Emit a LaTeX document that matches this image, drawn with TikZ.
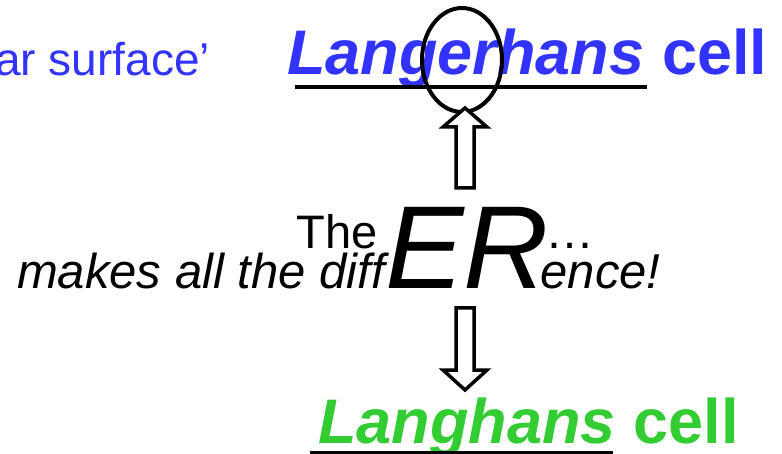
\documentclass[tikz,border=0pt]{standalone}
\usepackage{fontspec}
\setmainfont{Liberation Sans}
\usetikzlibrary{positioning, shapes.geometric}
\definecolor{langblue}{RGB}{51,51,255}
\definecolor{langgreen}{RGB}{51,204,51}

\begin{document}
\begin{tikzpicture}[
    x=1pt, y=-1pt,
    txt/.style={inner sep=0pt, anchor=base west},
    title/.style={txt, font=\fontsize{63}{63}\selectfont\bfseries},
    small/.style={txt, font=\fontsize{49}{49}\selectfont},
    big/.style={txt, font=\fontsize{118}{118}\selectfont\itshape},
    hollow/.style={draw, line width=3.5pt, fill=white, miter limit=10},
    rule/.style={line width=3.5pt}
]
\useasboundingbox (0,0) rectangle (782,454);

% upper name
\node[txt, text=langblue, font=\fontsize{46}{46}\selectfont] (surface) at (-5,76) {ar surface’};
\node[title, text=langblue, font=\fontsize{63}{63}\selectfont\bfseries\itshape] (langer) at (287,75) {Langerhans};
\node[title, text=langblue, right=0pt of langer.base east, anchor=base west] (cellA) {\ cell};
\draw[rule] (295,87) -- (647,87);
\node[draw, ellipse, line width=4pt, minimum width=80pt, minimum height=104pt, inner sep=0pt] (ring) at (462,60) {};

% middle words
\node[small, anchor=base east, font=\fontsize{49}{49}\selectfont\itshape] (makes) at (385,289) {makes all the diff};
\node[big, right=0pt of makes.base east, anchor=base west] (er) {ER};
\node[small, font=\fontsize{49}{49}\selectfont\itshape] (ence) at ([xshift=-9pt]er.base east) {ence!};
\node[small, anchor=base east, font=\fontsize{47}{47}\selectfont] (the) at (378,249) {The};
\node[small] (dots) at ([xshift=-4pt,yshift=40pt]er.base east) {…};

% lower name
\node[title, text=langgreen, font=\fontsize{63}{63}\selectfont\bfseries\itshape] (langh) at (318,443) {Langhans};
\node[title, text=langgreen, right=0pt of langh.base east, anchor=base west] (cellB) {\ cell};
\draw[rule] (310,453) -- (613,453);

% block arrows
\coordinate (uptail) at (465,188);
\coordinate (uptip) at (465,108);
\coordinate (downtail) at (465,308);
\coordinate (downtip) at (465,390);
\draw[hollow] (uptail) -- ++(9,0) -- ++(0,-61) -- ++(13,0) -- (uptip)
  -- ++(-22,19) -- ++(13,0) -- ++(0,61) -- cycle;
\draw[hollow] (downtail) -- ++(9,0) -- ++(0,62) -- ++(13,0) -- (downtip)
  -- ++(-22,-20) -- ++(13,0) -- ++(0,-62) -- cycle;
\end{tikzpicture}
\end{document}
